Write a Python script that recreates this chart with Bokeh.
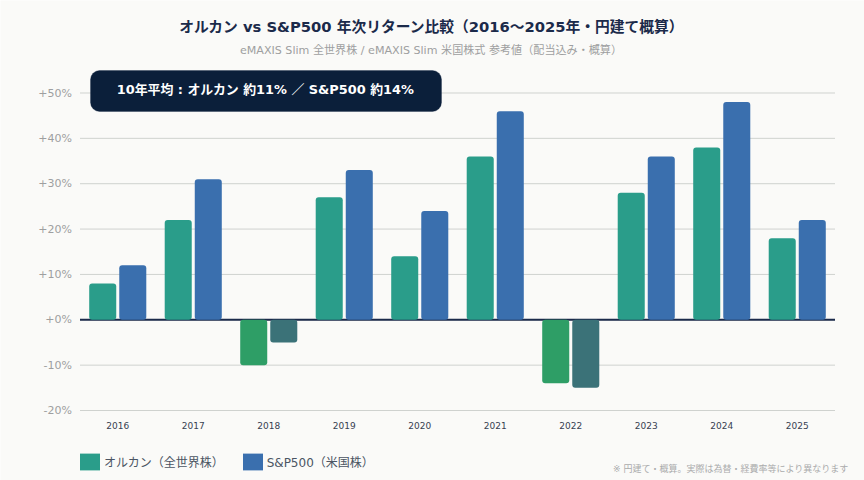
from bokeh.plotting import figure
from bokeh.models import (ColumnDataSource, Range1d, FixedTicker, Label,
                          BoxAnnotation, Legend, LegendItem)
from bokeh.transform import dodge
from bokeh.embed import file_html
from bokeh.resources import INLINE

years = ["2016", "2017", "2018", "2019", "2020", "2021", "2022", "2023", "2024", "2025"]
orcan = [8, 22, -10, 27, 14, 36, -14, 28, 38, 18]
sp500 = [12, 31, -5, 33, 24, 46, -15, 36, 48, 22]
y_ticks = [-20, -10, 0, 10, 20, 30, 40, 50]

title = "オルカン vs S&P500 年次リターン比較（2016〜2025年・円建て概算）"
subtitle = "eMAXIS Slim 全世界株 / eMAXIS Slim 米国株式 参考値（配当込み・概算）"
banner = "10年平均 : オルカン 約11% ／ S&P500 約14%"
footnote = "※ 円建て・概算。実際は為替・経費率等により異なります"
orcan_name = "オルカン（全世界株）"
sp_name = "S&P500（米国株）"

FONT = "'DejaVu Sans', 'Noto Sans CJK JP', sans-serif"
BG = "#FAFAF8"
C_O, C_O_NEG = "#2A9D8A", "#2E9E66"
C_S, C_S_NEG = "#3A6FAE", "#3B7278"
C_MUTED = "#9E9FA0"

W, H = 864, 480
idx = list(range(len(years)))
src = ColumnDataSource(dict(
    i=idx, orcan=orcan, sp500=sp500,
    c_o=[C_O if v >= 0 else C_O_NEG for v in orcan],
    c_s=[C_S if v >= 0 else C_S_NEG for v in sp500],
))

X_LEFT, X_RIGHT = 79.5, 834.5
Y_TOP, Y_BOT = 92.5, 410
ppx = (X_RIGHT - X_LEFT) / len(years)
ppy = (Y_BOT - Y_TOP) / (max(y_ticks) - min(y_ticks))
x_start = -0.5 - X_LEFT / ppx
x_end = x_start + W / ppx
y_end = max(y_ticks) + Y_TOP / ppy
y_start = y_end - H / ppy

p = figure(width=W, height=H, output_backend="svg", toolbar_location=None,
           x_range=Range1d(x_start, x_end), y_range=Range1d(y_start, y_end),
           min_border=0, background_fill_color=BG, border_fill_color=BG)
p.outline_line_color = None
p.xgrid.grid_line_color = None
p.ygrid.grid_line_color = None

x_lo, x_hi = idx[0] - 0.5, idx[-1] + 0.5
p.segment(x0=x_lo, x1=x_hi, y0=y_ticks, y1=y_ticks, line_color="#CFD2CF", line_width=1)

p.yaxis.fixed_location = x_lo
p.yaxis.ticker = FixedTicker(ticks=y_ticks)
p.yaxis.major_label_overrides = {v: (f"+{v}%" if v >= 0 else f"{v}%") for v in y_ticks}
p.yaxis.axis_line_color = None
p.yaxis.major_tick_line_color = None
p.yaxis.minor_tick_line_color = None
p.yaxis.major_tick_out = 0
p.yaxis.major_label_text_color = C_MUTED
p.yaxis.major_label_text_font = FONT
p.yaxis.major_label_text_font_size = "11px"
p.yaxis.major_label_standoff = 8

p.xaxis.fixed_location = min(y_ticks)
p.xaxis.ticker = FixedTicker(ticks=idx)
p.xaxis.major_label_overrides = dict(zip(idx, years))
p.xaxis.axis_line_color = None
p.xaxis.major_tick_line_color = None
p.xaxis.minor_tick_line_color = None
p.xaxis.major_tick_out = 0
p.xaxis.major_label_text_color = "#374151"
p.xaxis.major_label_text_font = FONT
p.xaxis.major_label_text_font_size = "9px"
p.xaxis.major_label_standoff = 11

p.segment(x0=x_lo, x1=x_hi, y0=0, y1=0, line_color="#1B2A4A", line_width=2)

BW = 0.358
OFF = 0.199
r1 = p.vbar(x=dodge("i", -OFF), top="orcan", width=BW, source=src,
            fill_color="c_o", line_color=None, border_radius=3)
r2 = p.vbar(x=dodge("i", OFF), top="sp500", width=BW, source=src,
            fill_color="c_s", line_color=None, border_radius=3)


def sy(v):
    return H - v


def text(txt, x, y, size, color, style="normal", align="center"):
    p.add_layout(Label(x=x, y=sy(y), x_units="screen", y_units="screen", text=txt,
                       text_font=FONT, text_font_size=size, text_color=color,
                       text_font_style=style, text_align=align, text_baseline="middle",
                       level="overlay"))


p.add_layout(BoxAnnotation(left=90, right=441, top=sy(70), bottom=sy(111),
                           left_units="screen", right_units="screen", top_units="screen",
                           bottom_units="screen", fill_color="#0B1F3A", fill_alpha=1,
                           line_color="#0B1F3A", border_radius=9, level="annotation"))
text(title, 431.5, 26, "14.75px", "#1B2A4A", "bold")
text(subtitle, 430.5, 50, "11.1px", C_MUTED)
text(banner, 265, 89, "12.9px", "#FFFFFF", "bold")
text(footnote, 848, 468, "9px", "#AAABAC", align="right")

legend = Legend(items=[LegendItem(label=orcan_name, renderers=[r1], index=0),
                       LegendItem(label=sp_name, renderers=[r2], index=0)],
                orientation="horizontal", location=(77, 8.5), spacing=16,
                glyph_width=25, glyph_height=21, label_standoff=2, padding=8,
                margin=0, border_line_color=None, background_fill_alpha=0,
                label_text_font=FONT, label_text_font_size="12px", label_text_color="#4B5563")
p.add_layout(legend)

open("out.html", "w").write(file_html(p, INLINE))
